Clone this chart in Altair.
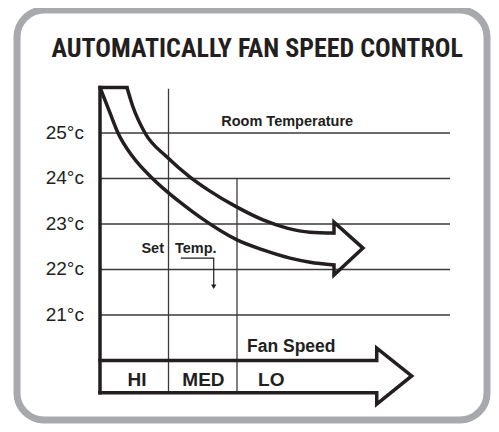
import altair as alt
import pandas as pd

# ---------------- data ----------------
title_text = "AUTOMATICALLY FAN SPEED CONTROL"
temps = [21, 22, 23, 24, 25]                 # room temperature gridlines (°C)
temp_labels = [f"{t}°c" for t in temps]
grid_right = 5.11                            # grid extent along fan-speed axis
label_x = -0.234                             # right edge of temperature labels
speed_labels = ["HI", "MED", "LO"]
speed_label_x = [0.54, 1.51, 2.50]
zone_x = [1, 2]                              # boundaries HI|MED, MED|LO
zone_top = [25.97, 24.0]
axis_top = 26.0
band_top = 20.0
band_bottom = 19.29

# curved "room temperature" arrow (x = fan-speed position, y = °C)
outer_x = [0.394, 0.482, 0.657, 0.978, 1.314, 1.577, 2.0, 2.380, 2.730, 3.066, 3.416]
outer_y = [26.0, 25.57, 25.0, 24.47, 24.03, 23.75, 23.37, 23.09, 22.91, 22.82, 22.80]
inner_x = [0.0, 0.146, 0.263, 0.482, 0.774, 0.949, 1.168, 1.460, 2.0, 2.380, 2.774, 3.066, 3.416]
inner_y = [26.0, 25.44, 25.0, 24.47, 23.99, 23.75, 23.48, 23.15, 22.65, 22.43, 22.25, 22.16, 22.10]
top_x = [0.0, 0.394]
top_y = [26.0, 26.0]
head_x = [3.416, 3.416, 3.839, 3.416, 3.416]
head_y = [22.80, 23.04, 22.47, 21.88, 22.10]

# fan speed arrow
fan_x = [0.0, 4.04, 4.04, 4.55, 4.04, 4.04, 0.0]
fan_y = [20.0, 20.0, 20.27, 19.66, 19.04, 19.29, 19.29]

# set temp leader
lead_x = [1.18, 1.66, 1.66]
lead_y = [22.25, 22.25, 21.66]
lead_tip = (1.66, 21.62)

# ---------------- styling ----------------
FONT = "Liberation Sans, Arial, Helvetica, sans-serif"
TFONT = "'Roboto Condensed', 'DejaVu Sans Condensed', sans-serif"
INK = "#231f20"
GRID = "#3a3a3a"
FRAME = "#a7a9ac"

xsc = alt.Scale(domain=[-1.2117, 5.6496], nice=False, zero=False)
ysc = alt.Scale(domain=[18.692, 27.703], nice=False, zero=False)


def X(f="x"):
    return alt.X(f"{f}:Q", scale=xsc, axis=None)


def Y(f="y"):
    return alt.Y(f"{f}:Q", scale=ysc, axis=None)


grid_df = pd.DataFrame({"x": [0] * len(temps), "x2": [grid_right] * len(temps), "y": temps})
grid = alt.Chart(grid_df).mark_rule(color=GRID, strokeWidth=1.3).encode(
    x=X(), x2="x2:Q", y=Y())

tick_df = pd.DataFrame({"t": temp_labels, "x": [label_x] * len(temps), "y": temps})
ticks = alt.Chart(tick_df).mark_text(align="right", baseline="middle", font=FONT,
                                     fontSize=19, color=INK).encode(
    x=X(), y=Y(), text="t:N")

zone_df = pd.DataFrame({"x": zone_x, "y": zone_top, "y2": [band_bottom] * len(zone_x)})
zones = alt.Chart(zone_df).mark_rule(color=GRID, strokeWidth=1.3).encode(
    x=X(), y=Y(), y2="y2:Q")

spine_df = pd.DataFrame({"x": [0.0], "y": [axis_top], "y2": [band_bottom]})
spine = alt.Chart(spine_df).mark_rule(color=INK, strokeWidth=3.5, strokeCap="square").encode(
    x=X(), y=Y(), y2="y2:Q")

curve_df = pd.concat([
    pd.DataFrame({"x": outer_x, "y": outer_y, "part": "outer"}),
    pd.DataFrame({"x": inner_x, "y": inner_y, "part": "inner"}),
])
curves = alt.Chart(curve_df).mark_line(color=INK, strokeWidth=3.5, interpolate="monotone").encode(
    x=X(), y=Y(), detail="part:N")

segs = []
for name, xs, ys in [("top", top_x, top_y), ("head", head_x, head_y), ("fan", fan_x, fan_y)]:
    segs.append(pd.DataFrame({"x": xs, "y": ys, "seg": name, "i": range(len(xs))}))
seg_df = pd.concat(segs)
polys = alt.Chart(seg_df).mark_line(color=INK, strokeWidth=3.5, strokeJoin="miter",
                                    strokeCap="square").encode(
    x=X(), y=Y(), detail="seg:N", order="i:Q")

lead_df = pd.DataFrame({"x": lead_x, "y": lead_y, "i": range(len(lead_x))})
lead = alt.Chart(lead_df).mark_line(color=INK, strokeWidth=1.2).encode(x=X(), y=Y(), order="i:Q")
tip = alt.Chart(pd.DataFrame({"x": [lead_tip[0]], "y": [lead_tip[1]]})).mark_point(
    shape="triangle-down", filled=True, size=28, color=INK, opacity=1).encode(x=X(), y=Y())


def texts(rows, align, font=FONT, weight="bold"):
    df = pd.DataFrame(rows, columns=["t", "x", "y", "fs"])
    return alt.Chart(df).mark_text(align=align, baseline="alphabetic", font=font,
                                   fontWeight=weight, color=INK).encode(
        x=X(), y=Y(), text="t:N", size=alt.Size("fs:Q", scale=None, legend=None))


title = texts([(title_text, 2.295, 26.66, 26)], "center", font=TFONT, weight="bold")
left_labels = texts([("Room Temperature", 1.77, 25.15, 14.5),
                     ("Temp.", 1.095, 22.36, 14.5),
                     ("Fan Speed", 2.146, 20.19, 17.5)], "left")
set_label = texts([("Set", 0.934, 22.36, 14.5)], "right")
speed = texts([(s, x, 19.44, 19) for s, x in zip(speed_labels, speed_label_x)], "center")

chart = alt.layer(grid, zones, curves, polys, spine, lead, tip, ticks,
                  title, left_labels, set_label, speed).properties(
    width=470, height=410,
    padding={"left": 9, "top": 2, "right": 4, "bottom": 4},
    autosize=alt.AutoSizeParams(type="none"),
    background="white",
).configure_view(stroke=FRAME, strokeWidth=7, cornerRadius=27, fill="white")

chart.save("out.html", embed_options={"renderer": "svg", "actions": False})
